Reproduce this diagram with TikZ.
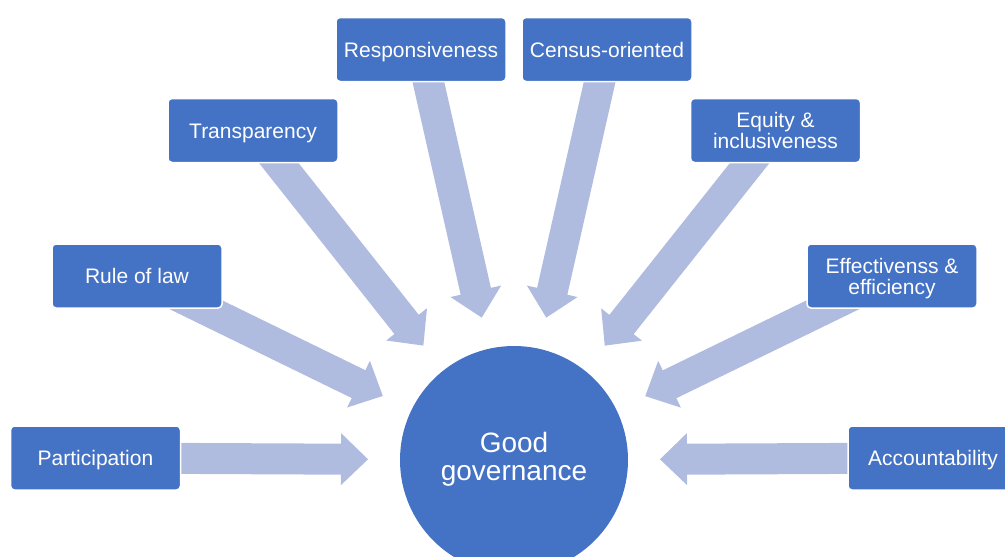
\documentclass[tikz,border=0pt]{standalone}
\usepackage{fontspec}
\setmainfont{Liberation Sans}
\usetikzlibrary{calc,backgrounds}
\definecolor{boxblue}{HTML}{4472C4}
\definecolor{arrowblue}{HTML}{B0BCDF}
\tikzset{
  pillar/.style={rectangle, rounded corners=4pt, fill=boxblue, draw=white,
    line width=1.5pt, minimum width=170pt, minimum height=64pt, text=white,
    align=center, font=\fontsize{21}{21}\selectfont, inner sep=0pt,
    text height=15pt, text depth=0pt},
  twoline/.style={text height=36pt},
  hub/.style={circle, fill=boxblue, minimum size=228pt, text=white,
    align=center, font=\fontsize{28}{28}\selectfont, inner sep=0pt,
    text height=48pt, text depth=7pt},
  blockarrow/.style={fill=arrowblue},
}
% block arrow from a pillar box towards the hub circle
\newcommand\pillararrow[1]{%
  \coordinate (#1-tip) at ($(gg.center)!146pt!(#1.center)$);
  \coordinate (#1-base) at ($(#1-tip)!27pt!(#1.center)$);
  \fill[blockarrow]
    ($(#1.center)!15.5pt!90:(#1-tip)$) --
    ($(#1-base)!15.5pt!90:(#1-tip)$) --
    ($(#1-base)!26pt!90:(#1-tip)$) --
    (#1-tip) --
    ($(#1-base)!26pt!-90:(#1-tip)$) --
    ($(#1-base)!15.5pt!-90:(#1-tip)$) --
    ($(#1.center)!15.5pt!-90:(#1-tip)$) -- cycle;
}
\begin{document}
\begin{tikzpicture}[x=1pt,y=-1pt]
  \useasboundingbox (0,0) rectangle (1005,557);
  \node[hub] (gg) at (514,460) {Good\\governance};
  \node[pillar] (part) at (95.5,458) {Participation};
  \node[pillar] (law)  at (137,276) {Rule of law};
  \node[pillar] (trans) at (253,130.5) {Transparency};
  \node[pillar] (resp) at (421,49.5) {Responsiveness};
  \node[pillar] (cens) at (607,49.5) {Census-oriented};
  \node[pillar, twoline] (equi) at (775.5,130.5) {Equity \&\\inclusiveness};
  \node[pillar, twoline] (effe) at (892,276) {Effectivenss \&\\efficiency};
  \node[pillar] (acco) at (933,458) {Accountability};
  \begin{pgfonlayer}{background}
    \pillararrow{part}
    \pillararrow{law}
    \pillararrow{trans}
    \pillararrow{resp}
    \pillararrow{cens}
    \pillararrow{equi}
    \pillararrow{effe}
    \pillararrow{acco}
  \end{pgfonlayer}
\end{tikzpicture}
\end{document}
